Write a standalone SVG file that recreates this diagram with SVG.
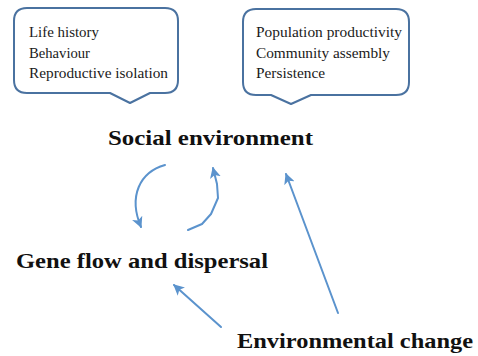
<svg xmlns="http://www.w3.org/2000/svg" width="478" height="356" viewBox="0 0 478 356">
  <style>
    .callout { fill: #ffffff; stroke: #4a72a0; stroke-width: 2; stroke-linejoin: round; }
    .item { font-family: 'Liberation Serif', Tinos, 'Noto Serif', 'DejaVu Serif', FreeSerif, Times, serif; font-size: 14px; fill: #1a1a1a; }
    .label { font-family: 'Liberation Serif', Tinos, 'Noto Serif', 'DejaVu Serif', FreeSerif, Times, serif; font-size: 22px; font-weight: bold; fill: #111111; }
    .link { fill: none; stroke: #5b93cd; stroke-width: 2; stroke-linecap: round; stroke-linejoin: round; }
  </style>
  <defs>
    <marker id="head" viewBox="0 0 10 10" refX="9" refY="5" markerWidth="5.5" markerHeight="5.5" orient="auto" markerUnits="strokeWidth">
      <path d="M0,0 L10,5 L0,10 L2.5,5 Z" fill="#5b93cd"/>
    </marker>
  </defs>
  <rect width="478" height="356" fill="#ffffff"/>

  <g id="traits">
    <path class="callout" d="M27,8 H165 Q178,8 178,21 V80 Q178,93 165,93 H150 L130,103 L110,93 H27 Q14,93 14,80 V21 Q14,8 27,8 Z"/>
    <text class="item" x="29" y="37" textLength="70" lengthAdjust="spacingAndGlyphs">Life history</text>
    <text class="item" x="29" y="58" textLength="61" lengthAdjust="spacingAndGlyphs">Behaviour</text>
    <text class="item" x="29" y="78" textLength="139" lengthAdjust="spacingAndGlyphs">Reproductive isolation</text>
  </g>

  <g id="outcomes">
    <path class="callout" d="M256,9 H396 Q409,9 409,22 V82 Q409,95 396,95 H311 L291,104 L271,95 H256 Q243,95 243,82 V22 Q243,9 256,9 Z"/>
    <text class="item" x="256" y="37" textLength="146" lengthAdjust="spacingAndGlyphs">Population productivity</text>
    <text class="item" x="256" y="58" textLength="134" lengthAdjust="spacingAndGlyphs">Community assembly</text>
    <text class="item" x="256" y="78" textLength="69" lengthAdjust="spacingAndGlyphs">Persistence</text>
  </g>

  <g id="social-environment">
    <text class="label" x="108" y="145" textLength="205" lengthAdjust="spacingAndGlyphs">Social environment</text>
  </g>

  <g id="gene-flow">
    <text class="label" x="16" y="268" textLength="252" lengthAdjust="spacingAndGlyphs">Gene flow and dispersal</text>
  </g>

  <g id="environmental-change">
    <text class="label" x="237" y="348" textLength="236" lengthAdjust="spacingAndGlyphs">Environmental change</text>
  </g>

  <g id="connectors">
    <path class="link" marker-end="url(#head)" d="M165,165 C140,172 128,196 141,227"/>
    <path class="link" marker-end="url(#head)" d="M188,230 L202,224 L211,214 L218,198 L217,184 L213,168"/>
    <path class="link" marker-end="url(#head)" d="M338,313 L286,174"/>
    <path class="link" marker-end="url(#head)" d="M221,327 L174,285"/>
  </g>
</svg>
